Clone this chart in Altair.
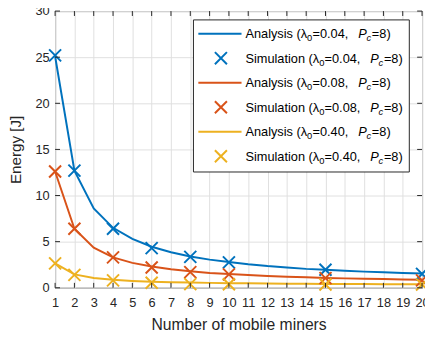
import altair as alt
import pandas as pd

# ---------------- data ----------------
n_all = list(range(1, 21))
n_sim = [1, 2, 4, 6, 8, 10, 15, 20]

lam_labels = ["0.04", "0.08", "0.40"]
colors = ["#0072BD", "#D95319", "#EDB120"]

ana_004 = [25.1, 12.7, 8.6, 6.5, 5.3, 4.45, 3.85, 3.4, 3.05, 2.8,
           2.55, 2.35, 2.2, 2.05, 1.95, 1.85, 1.75, 1.68, 1.6, 1.55]
ana_008 = [12.6, 6.4, 4.35, 3.3, 2.7, 2.3, 2.0, 1.8, 1.6, 1.5,
           1.38, 1.28, 1.2, 1.13, 1.07, 1.02, 0.98, 0.94, 0.9, 0.87]
ana_040 = [2.65, 1.45, 1.05, 0.86, 0.74, 0.66, 0.6, 0.56, 0.53, 0.5,
           0.48, 0.46, 0.44, 0.43, 0.42, 0.41, 0.4, 0.39, 0.385, 0.38]

sim_004 = [25.2, 12.7, 6.4, 4.3, 3.35, 2.75, 1.95, 1.5]
sim_008 = [12.6, 6.4, 3.3, 2.2, 1.7, 1.45, 1.05, 0.8]
sim_040 = [2.65, 1.4, 0.8, 0.55, 0.4, 0.38, 0.36, 0.35]

x_ticks = list(range(1, 21))
y_ticks = [0, 5, 10, 15, 20, 25, 30]

# ---------------- tables ----------------
ana_rows = []
for lab, vals in zip(lam_labels, [ana_004, ana_008, ana_040]):
    for n, v in zip(n_all, vals):
        ana_rows.append({"N": n, "E": v, "series": lab})
ana_df = pd.DataFrame(ana_rows)

sim_rows = []
for lab, vals in zip(lam_labels, [sim_004, sim_008, sim_040]):
    for n, v in zip(n_sim, vals):
        sim_rows.append({"N": n, "E": v, "series": lab})
sim_df = pd.DataFrame(sim_rows)

AX = "#262626"
FONT = "Liberation Sans"
W, H = 374, 282

xs = alt.Scale(domain=[1, 20], nice=False, zero=False)
ys = alt.Scale(domain=[0, 30], nice=False)
xaxis = alt.Axis(values=x_ticks, format="d", title="Number of mobile miners",
                 labelFlush=False, labelOverlap=False, ticks=False, domain=False,
                 labelPadding=9, titleY=43, titleBaseline="alphabetic", titleFontSize=16)
yaxis = alt.Axis(values=y_ticks, format="d", title="Energy [J]",
                 labelFlush=False, labelOverlap=False, ticks=False, domain=False,
                 labelPadding=6, titleX=-35, titleY=H / 2, titleAngle=-90,
                 titleBaseline="alphabetic", titleFontSize=15.5)

xenc = alt.X("N:Q", scale=xs, axis=xaxis)
yenc = alt.Y("E:Q", scale=ys, axis=yaxis)
cenc = alt.Color("series:N", scale=alt.Scale(domain=lam_labels, range=colors), legend=None)

XPATH = "M-1,-1L1,1M1,-1L-1,1"

lines = alt.Chart(ana_df).mark_line(strokeWidth=2).encode(x=xenc, y=yenc, color=cenc, detail="series:N")
points = alt.Chart(sim_df).mark_point(shape=XPATH, filled=False, size=150, strokeWidth=2, opacity=1).encode(
    x=xenc, y=yenc, color=cenc)

xt_df = pd.DataFrame({"N": x_ticks})
yt_df = pd.DataFrame({"E": y_ticks})
ticks_b = alt.Chart(xt_df).mark_rule(color=AX, strokeWidth=1).encode(x=xenc, y=alt.value(H), y2=alt.value(H - 5))
ticks_t = alt.Chart(xt_df).mark_rule(color=AX, strokeWidth=1).encode(x=xenc, y=alt.value(0), y2=alt.value(5))
ticks_l = alt.Chart(yt_df).mark_rule(color=AX, strokeWidth=1).encode(y=yenc, x=alt.value(0), x2=alt.value(5))
ticks_r = alt.Chart(yt_df).mark_rule(color=AX, strokeWidth=1).encode(y=yenc, x=alt.value(W - 5), x2=alt.value(W))

dummy = pd.DataFrame({"d": [0]})

# legend (drawn by hand to get subscripts / italics)
layers = [lines, points, ticks_b, ticks_t, ticks_l, ticks_r]
layers.append(alt.Chart(dummy).mark_rect(fill="white", stroke=AX, strokeWidth=1).encode(
    x=alt.value(141), x2=alt.value(361), y=alt.value(9), y2=alt.value(164)))

ARIAL = {" ": 278, "(": 333, ")": 333, "=": 584, ".": 278, ",": 278, "A": 667, "S": 667,
         "a": 556, "n": 556, "l": 222, "y": 500, "s": 500, "i": 222, "m": 833, "u": 556,
         "t": 278, "o": 556, "λ": 500}
for d in "0123456789":
    ARIAL[d] = 556


def tw(s, fs):
    return sum(ARIAL.get(c, 556) for c in s) * fs / 1000.0


FS = 13
SUB = 9.5
for i, lab in enumerate(lam_labels):
    for j, kind in enumerate(["Analysis", "Simulation"]):
        row = 2 * i + j
        cy = 23 + 25 * row
        col = colors[i]
        if kind == "Analysis":
            layers.append(alt.Chart(dummy).mark_rule(color=col, strokeWidth=2).encode(
                x=alt.value(146), x2=alt.value(190), y=alt.value(cy)))
        else:
            layers.append(alt.Chart(dummy).mark_point(shape=XPATH, filled=False, size=150, strokeWidth=2,
                                                      color=col, opacity=1).encode(
                x=alt.value(169), y=alt.value(cy)))
        t1 = kind + " (λ"
        t2 = "=" + lab + ","
        x1 = 194
        xs0 = x1 + tw(t1, FS)
        x2 = xs0 + 5.5
        xP = x2 + tw(t2, FS) + 10
        xc = xP + 8.5
        x3 = xc + 5.5
        pieces = [
            (t1, x1, cy + 4.5, FS, "normal"),
            ("0", xs0, cy + 7.5, SUB, "normal"),
            (t2, x2, cy + 4.5, FS, "normal"),
            ("P", xP, cy + 4.5, FS, "italic"),
            ("c", xc, cy + 7.5, SUB, "italic"),
            ("=8)", x3, cy + 4.5, FS, "normal"),
        ]
        for txt, px, py, fs, st in pieces:
            layers.append(alt.Chart(dummy).mark_text(
                text=txt, font=FONT, fontSize=fs, fontStyle=st, align="left",
                baseline="alphabetic", color="#000000").encode(x=alt.value(px), y=alt.value(py)))

chart = alt.layer(*layers).properties(
    width=W, height=H,
    autosize=alt.AutoSizeParams(type="none"),
    padding={"left": 48, "top": 0, "right": 3, "bottom": 45},
    background="white",
).configure_view(stroke=AX, strokeWidth=1).configure_axis(
    labelFont=FONT, titleFont=FONT, labelFontSize=13,
    titleFontWeight="normal", labelColor=AX, titleColor=AX,
    gridColor="#dfdfdf", gridWidth=1, gridOpacity=1,
)

chart.save("out.html", embed_options={"renderer": "svg", "actions": False})
